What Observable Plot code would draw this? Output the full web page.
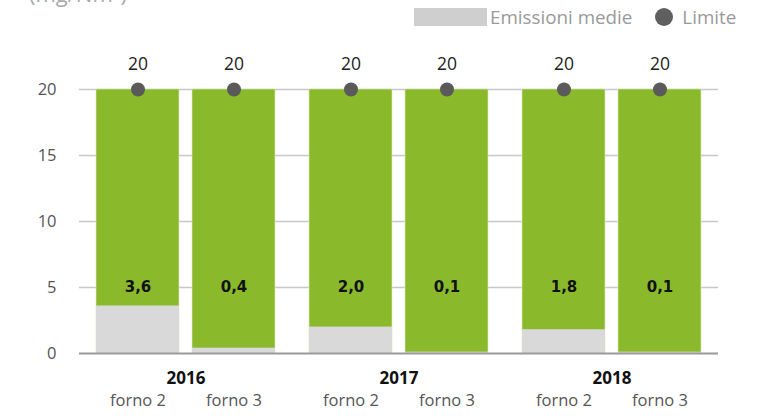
<!DOCTYPE html>
<html>
<head>
<meta charset="utf-8">
<script src="https://cdn.jsdelivr.net/npm/d3@7"></script>
<script src="https://cdn.jsdelivr.net/npm/@observablehq/plot@0.6"></script>
<style>
  body { margin: 0; background: #fff; width: 774px; height: 418px; overflow: hidden; position: relative; font-family: "Open Sans", sans-serif; }
  #unit { position: absolute; left: 29px; top: -18px; font-size: 22px; line-height: 22px; color: #aaa; white-space: nowrap; }
  #legend { position: absolute; top: 5px; left: 414px; display: flex; align-items: center; font-size: 18.8px; line-height: 24px; color: #999; white-space: nowrap; }
  #legend .sw { width: 73px; height: 18px; background: #cfcfcf; margin-right: 3px; }
  #legend .dot { width: 18px; height: 18px; border-radius: 50%; background: #5f5f5f; margin-left: 23px; margin-right: 9px; }
  #chart { position: absolute; left: 0; top: 0; }
</style>
</head>
<body>
<div id="unit">(mg/Nm³)</div>
<div id="legend"><span class="sw"></span><span>Emissioni medie</span><span class="dot"></span><span>Limite</span></div>
<div id="chart"></div>
<script>
const years = ["2016", "2017", "2018"];
const forni = ["forno 2", "forno 3"];
const emissioni = [3.6, 0.4, 2.0, 0.1, 1.8, 0.1];
const limite = [20, 20, 20, 20, 20, 20];
const yTicks = [0, 5, 10, 15, 20];

const data = years.flatMap((y, i) => forni.map((f, j) => ({
  year: y, forno: f, emissioni: emissioni[i * 2 + j], limite: limite[i * 2 + j]
})));

const fmt = v => v.toFixed(1).replace(".", ",");

const chart = Plot.plot({
  width: 774,
  height: 418,
  marginTop: 89,
  marginBottom: 65,
  marginLeft: 79,
  marginRight: 56,
  style: { fontFamily: "Open Sans, sans-serif", fontSize: "16.5px", color: "#555", background: "transparent" },
  facet: { data, x: "year" },
  fx: { domain: years, padding: 0, axis: null, label: null },
  x: { domain: forni, paddingInner: 0.134, paddingOuter: 0.168, axis: null, label: null },
  y: { domain: [0, 20], ticks: yTicks, tickSize: 0, tickPadding: 23, grid: true, label: null },
  marks: [
    Plot.ruleY(yTicks.slice(1), { stroke: "#c8c8c8", strokeWidth: 1.5 }),
    Plot.barY(data, { x: "forno", y: "limite", fill: "#8aba2c", stroke: "#dcebc4", strokeWidth: 0.6 }),
    Plot.barY(data, { x: "forno", y: "emissioni", fill: "#d9d9d9" }),
    Plot.ruleY([0], { stroke: "#9a9a9a", strokeWidth: 2 }),
    Plot.dot(data, { x: "forno", y: "limite", r: 7, fill: "#5a5a5a", stroke: "none" }),
    Plot.text(data, { x: "forno", y: "limite", text: d => String(d.limite), dy: -25, fill: "#222", fontSize: 17.5 }),
    Plot.text(data, { x: "forno", text: d => fmt(d.emissioni), frameAnchor: "bottom", dy: -62, fill: "#111", fontSize: 15, fontWeight: "bold", fontFamily: "DejaVu Sans, sans-serif" }),
    Plot.text(data, { x: "forno", text: "forno", frameAnchor: "bottom", dy: 52, fill: "#555", fontSize: 16.5 }),
    Plot.text(data, { filter: d => d.forno === forni[0], text: "year", frameAnchor: "bottom", dy: 30, fill: "#111", fontSize: 17, fontWeight: "bold" })
  ]
});
document.getElementById("chart").appendChild(chart);
</script>
</body>
</html>
